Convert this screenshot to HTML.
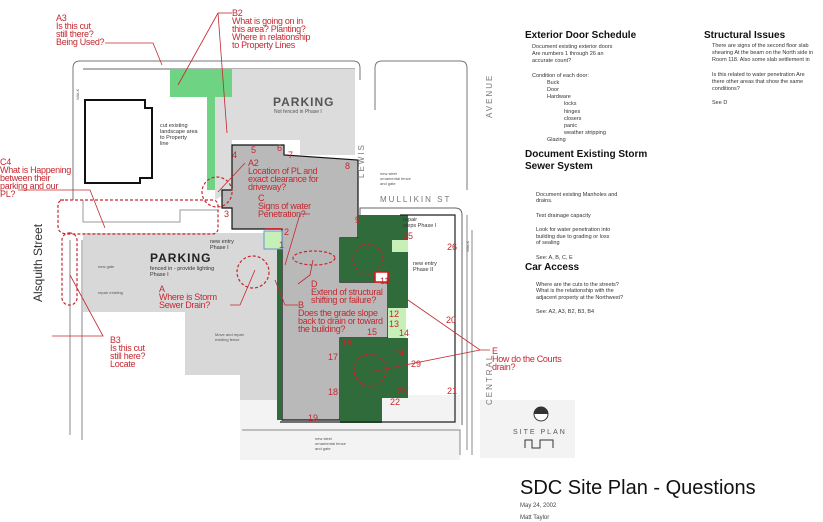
<!DOCTYPE html>
<html><head><meta charset="utf-8"><style>
html,body{margin:0;padding:0;background:#fff;}
svg{display:block;}
.r{fill:#c4282f;font-family:"Liberation Sans",sans-serif;font-size:9px;letter-spacing:-0.3px;}
.n{fill:#c4282f;font-family:"Liberation Sans",sans-serif;font-size:9px;}
.s{fill:#555;font-family:"Liberation Sans",sans-serif;font-size:4px;}
.b{fill:#333;font-family:"Liberation Sans",sans-serif;font-size:5.5px;}
.h{fill:#111;font-family:"Liberation Sans",sans-serif;font-size:10px;font-weight:bold;}
.g{fill:#777;font-family:"Liberation Sans",sans-serif;font-size:8px;letter-spacing:2px;}
</style></head><body>
<svg width="823" height="522" viewBox="0 0 823 522" xmlns="http://www.w3.org/2000/svg">
<rect x="240" y="395" width="220" height="65" fill="#f3f3f3"/>
<rect x="480" y="400" width="95" height="58" fill="#f3f3f3"/>
<path d="M73,200 L73,68 Q73,61 80,61 L353,61 Q360,61 360,68 L360,80" fill="none" stroke="#777" stroke-width="1"/>
<line x1="83" y1="69" x2="355" y2="69" stroke="#666"/>
<path d="M232,69 L355,69 L355,155 L300,155 L300,140 L232,140 L232,190 L215,200 L215,97 L232,97 Z" fill="#dcdcdc"/>
<path d="M170,69 L232,69 L232,97 L215,97 L215,190 L207,190 L207,97 L170,97 Z" fill="#6fd384"/>
<path d="M85,100 L145,100 L145,108 L152,108 L152,178 L140,178 L140,183 L85,183 Z" fill="#fff" stroke="#111" stroke-width="2"/>
<path d="M83,233 L282,233 L282,400 L240,400 L240,375 L185,375 L185,312 L83,312 Z" fill="#d8d8d8"/>
<path d="M83,200 L83,222 L180,222 L180,210 L218,210" fill="none" stroke="#999"/>
<path d="M232,145 L284,145 L284,155 L358,160 L358,238 L340,238 L340,282 L388,282 L388,338 L340,338 L340,420 L282,420 L282,229 L232,229 L232,208 L222,208 L222,190 L232,190 Z" fill="#b9b9b9" stroke="#111" stroke-width="1.2"/>
<path d="M358,215 L408,215 L408,282 L340,282 L340,238 L358,238 Z" fill="#2f6b3b"/>
<path d="M340,338 L408,338 L408,398 L382,398 L382,423 L340,423 Z" fill="#2f6b3b"/>
<rect x="277" y="248" width="5" height="172" fill="#2f6b3b"/>
<rect x="388" y="282" width="20" height="26" fill="#2f6b3b"/>
<rect x="388" y="308" width="18" height="30" fill="#c6f0b8"/>
<rect x="264" y="231" width="18" height="18" fill="#c6f0b8" stroke="#6a8fd0"/>
<rect x="392" y="240" width="16" height="12" fill="#c6f0b8"/>
<rect x="375" y="272" width="13" height="10" fill="#fff" stroke="#e01010" stroke-width="1.5"/>
<line x1="265" y1="229" x2="282" y2="229" stroke="#e01010" stroke-width="1.5"/>
<path d="M360,215 L360,208 L455,208 Q462,208 462,215 L462,425" fill="none" stroke="#666"/>
<path d="M400,215 L455,215 L455,422 L280,422" fill="none" stroke="#222" stroke-width="1.2"/>
<line x1="467" y1="215" x2="467" y2="450" stroke="#888"/>
<line x1="472" y1="230" x2="472" y2="455" stroke="#888"/>
<path d="M375,110 L375,68 Q375,61 382,61 L460,61 Q467,61 467,68 L467,190" fill="none" stroke="#777"/>
<path d="M242,430 L460,430 L460,455" fill="none" stroke="#888"/>
<line x1="70" y1="240" x2="70" y2="435" stroke="#888"/>
<line x1="82" y1="240" x2="82" y2="440" stroke="#888"/>
<g fill="none" stroke="#c4282f" stroke-dasharray="3,2" stroke-width="1.2">
<path d="M60,200 L212,200 Q218,200 218,206 L218,228 Q218,234 212,234 L68,234 Q58,234 58,226 L58,206 Q58,200 64,200Z"/>
<rect x="62" y="233" width="15" height="72" rx="7"/>
<circle cx="217" cy="192" r="15"/>
<circle cx="253" cy="272" r="16"/>
<circle cx="368" cy="259" r="15"/>
<circle cx="370" cy="370" r="16"/>
<ellipse cx="314" cy="258" rx="21" ry="7"/>
</g>
<g fill="none" stroke="#c4282f" stroke-width="0.8">
<polyline points="105,43 153,43 162,65"/>
<polyline points="218,13 232,13"/>
<line x1="218" y1="13" x2="178" y2="85"/>
<line x1="218" y1="13" x2="227" y2="133"/>
<polyline points="18,190 90,190 105,228"/>
<line x1="245" y1="163" x2="218" y2="192"/>
<polyline points="310,214 300,214 285,265"/>
<polyline points="230,305 240,305 255,270"/>
<polyline points="298,284 310,275 313,260"/>
<polyline points="298,305 285,305 275,280"/>
<polyline points="52,336 103,336 70,275"/>
<polyline points="490,350 480,350 408,300"/>
<line x1="480" y1="350" x2="370" y2="372"/>
</g>
<text class="b" x="160" y="127">cut existing</text>
<text class="b" x="160" y="133">landscape area</text>
<text class="b" x="160" y="139">to Property</text>
<text class="b" x="160" y="145">line</text>
<text x="273" y="106" style="font:bold 12px 'Liberation Sans',sans-serif;fill:#555;letter-spacing:1px">PARKING</text>
<text class="s" x="274" y="113" style="font-size:5px">Not fenced in Phase I</text>
<text x="150" y="262" style="font:bold 12px 'Liberation Sans',sans-serif;fill:#222;letter-spacing:1px">PARKING</text>
<text class="b" x="150" y="270">fenced in - provide lighting</text>
<text class="b" x="150" y="276">Phase I</text>
<text class="b" x="210" y="243">new entry</text>
<text class="b" x="210" y="249">Phase I</text>
<text class="b" x="413" y="265">new entry</text>
<text class="b" x="413" y="271">Phase II</text>
<text class="b" x="403" y="221">repair</text>
<text class="b" x="403" y="227">steps Phase I</text>
<text class="s" x="98" y="268">new gate</text>
<text class="s" x="98" y="294">repair existing</text>
<text class="s" x="215" y="336">Move and repair</text>
<text class="s" x="215" y="341">existing fence</text>
<text class="s" x="315" y="440">new steel</text>
<text class="s" x="315" y="445">ornamental fence</text>
<text class="s" x="315" y="450">and gate</text>
<text class="s" x="380" y="175">new steel</text>
<text class="s" x="380" y="180">ornamental fence</text>
<text class="s" x="380" y="185">and gate</text>
<text class="g" x="380" y="202">MULLIKIN ST</text>
<text class="g" transform="translate(364,178) rotate(-90)">LEWIS</text>
<text class="g" transform="translate(492,118) rotate(-90)">AVENUE</text>
<text class="g" transform="translate(492,405) rotate(-90)">CENTRAL</text>
<text transform="translate(42,302) rotate(-90)" style="font:12px 'Liberation Sans',sans-serif;fill:#333">Alsquith Street</text>
<text class="s" transform="translate(79,100) rotate(-90)">WALK</text>
<text class="s" transform="translate(469,252) rotate(-90)">WALK</text>
<g class="r">
<text x="56" y="21">A3</text><text x="56" y="29">Is this cut</text><text x="56" y="37">still there?</text><text x="56" y="45">Being Used?</text>
<text x="232" y="16">B2</text><text x="232" y="24">What is going on in</text><text x="232" y="32">this area? Planting?</text><text x="232" y="40">Where in relationship</text><text x="232" y="48">to Property Lines</text>
<text x="0" y="165">C4</text><text x="0" y="173">What is Happening</text><text x="0" y="181">between their</text><text x="0" y="189">parking and our</text><text x="0" y="197">PL?</text>
<text x="248" y="166">A2</text><text x="248" y="174">Location of PL and</text><text x="248" y="182">exact clearance for</text><text x="248" y="190">driveway?</text>
<text x="258" y="201">C</text><text x="258" y="209">Signs of water</text><text x="258" y="217">Penetration?</text>
<text x="159" y="292">A</text><text x="159" y="300">Where is Storm</text><text x="159" y="308">Sewer Drain?</text>
<text x="311" y="287">D</text><text x="311" y="295">Extend of structural</text><text x="311" y="303">shifting or failure?</text>
<text x="298" y="308">B</text><text x="298" y="316">Does the grade slope</text><text x="298" y="324">back to drain or toward</text><text x="298" y="332">the building?</text>
<text x="110" y="343">B3</text><text x="110" y="351">Is this cut</text><text x="110" y="359">still here?</text><text x="110" y="367">Locate</text>
<text x="492" y="354">E</text><text x="492" y="362">How do the Courts</text><text x="492" y="370">drain?</text>
</g>
<g class="n">
<text x="251" y="153">5</text><text x="277" y="151">6</text><text x="288" y="158">7</text><text x="232" y="158">4</text><text x="345" y="169">8</text><text x="224" y="217">3</text><text x="355" y="223">9</text><text x="284" y="235">2</text><text x="279" y="248">1</text>
<text x="380" y="284">11</text><text x="389" y="317">12</text><text x="389" y="327">13</text><text x="399" y="336">14</text><text x="367" y="335">15</text><text x="342" y="346">16</text><text x="328" y="360">17</text><text x="328" y="395">18</text><text x="308" y="421">19</text><text x="390" y="405">22</text><text x="397" y="394">23</text><text x="394" y="356">24</text><text x="411" y="367">29</text><text x="446" y="323">20</text><text x="447" y="394">21</text><text x="447" y="250">26</text><text x="403" y="239">25</text>
</g>
<circle cx="541" cy="414" r="7" fill="#fff" stroke="#333"/>
<path d="M534,414 A7,7 0 0 1 548,414 Z" fill="#333"/>
<text x="513" y="434" style="font:7px 'Liberation Sans',sans-serif;fill:#555;letter-spacing:2px">SITE PLAN</text>
<path d="M525,448 L525,440 L532,440 L532,448 L540,448 L540,440 L553,440 L553,448" fill="none" stroke="#333"/>
<text class="h" x="525" y="38">Exterior Door Schedule</text>
<g class="b">
<text x="532" y="48">Document existing exterior doors</text>
<text x="532" y="55">Are numbers 1 through 26 an</text>
<text x="532" y="62">accurate count?</text>
<text x="532" y="77">Condition of each door:</text>
<text x="547" y="84">Buck</text><text x="547" y="91">Door</text><text x="547" y="98">Hardware</text>
<text x="564" y="105">locks</text><text x="564" y="113">hinges</text><text x="564" y="120">closers</text><text x="564" y="127">panic</text><text x="564" y="134">weather stripping</text>
<text x="547" y="141">Glazing</text>
</g>
<text class="h" x="525" y="157">Document Existing Storm</text>
<text class="h" x="525" y="169">Sewer System</text>
<g class="b">
<text x="536" y="196">Document existing Manholes and</text><text x="536" y="202">drains.</text>
<text x="536" y="217">Test drainage capacity</text>
<text x="536" y="231">Look for water penetration into</text><text x="536" y="238">building due to grading or loss</text><text x="536" y="244">of sealing</text>
<text x="536" y="259">See: A, B, C, E</text>
</g>
<text class="h" x="525" y="270">Car Access</text>
<g class="b">
<text x="536" y="286">Where are the cuts to the streets?</text><text x="536" y="292">What is the relationship with the</text><text x="536" y="299">adjacent property at the Northwest?</text>
<text x="536" y="313">See: A2, A3, B2, B3, B4</text>
</g>
<text class="h" x="704" y="38">Structural Issues</text>
<g class="b">
<text x="712" y="47">There are signs of the second floor slab</text><text x="712" y="54">shearing At the beam on the North side in</text><text x="712" y="61">Room 118. Also some slab settlement in</text>
<text x="712" y="76">Is this related to water penetration Are</text><text x="712" y="83">there other areas that show the same</text><text x="712" y="90">conditions?</text>
<text x="712" y="104">See D</text>
</g>
<text x="520" y="494" style="font:20px 'Liberation Sans',sans-serif;fill:#111">SDC Site Plan - Questions</text>
<text x="520" y="507" style="font:6px 'Liberation Sans',sans-serif;fill:#444">May 24, 2002</text>
<text x="520" y="519" style="font:6px 'Liberation Sans',sans-serif;fill:#444">Matt Taylor</text>
</svg>
</body></html>
